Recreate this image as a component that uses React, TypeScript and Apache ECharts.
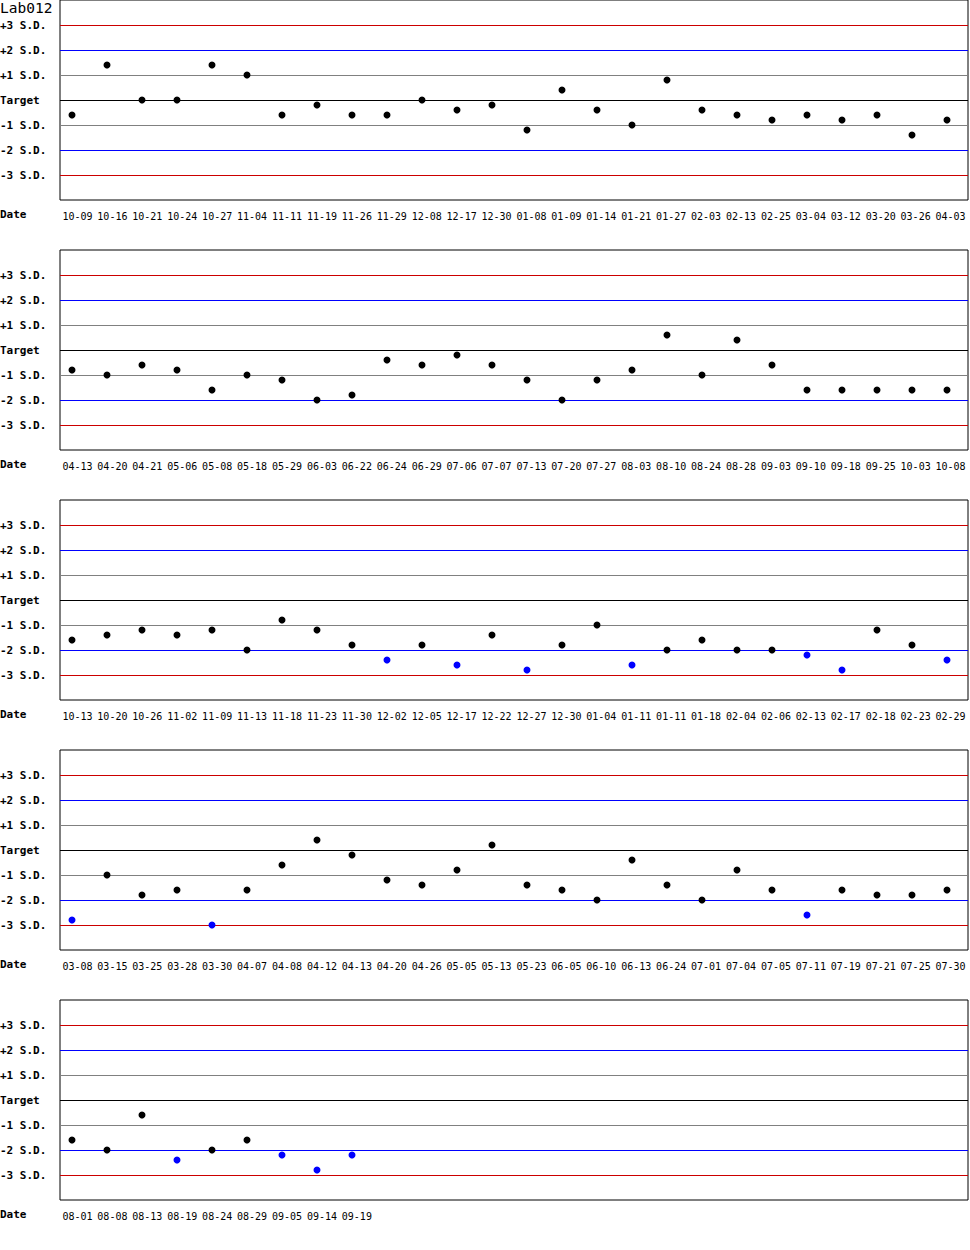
import { useEffect, useRef } from 'react'
import * as echarts from 'echarts'

// Levey-Jennings chart, Lab012 — values are in S.D. units from target
const title = 'Lab012'
const sdLabels = ['', '-3 S.D.', '-2 S.D.', '-1 S.D.', 'Target', '+1 S.D.', '+2 S.D.', '+3 S.D.', '']

const dates1 = ['10-09', '10-16', '10-21', '10-24', '10-27', '11-04', '11-11', '11-19', '11-26', '11-29', '12-08', '12-17', '12-30', '01-08', '01-09', '01-14', '01-21', '01-27', '02-03', '02-13', '02-25', '03-04', '03-12', '03-20', '03-26', '04-03']
const values1 = [-0.6, 1.4, 0, 0, 1.4, 1.0, -0.6, -0.2, -0.6, -0.6, 0, -0.4, -0.2, -1.2, 0.4, -0.4, -1.0, 0.8, -0.4, -0.6, -0.8, -0.6, -0.8, -0.6, -1.4, -0.8]

const dates2 = ['04-13', '04-20', '04-21', '05-06', '05-08', '05-18', '05-29', '06-03', '06-22', '06-24', '06-29', '07-06', '07-07', '07-13', '07-20', '07-27', '08-03', '08-10', '08-24', '08-28', '09-03', '09-10', '09-18', '09-25', '10-03', '10-08']
const values2 = [-0.8, -1.0, -0.6, -0.8, -1.6, -1.0, -1.2, -2.0, -1.8, -0.4, -0.6, -0.2, -0.6, -1.2, -2.0, -1.2, -0.8, 0.6, -1.0, 0.4, -0.6, -1.6, -1.6, -1.6, -1.6, -1.6]

const dates3 = ['10-13', '10-20', '10-26', '11-02', '11-09', '11-13', '11-18', '11-23', '11-30', '12-02', '12-05', '12-17', '12-22', '12-27', '12-30', '01-04', '01-11', '01-11', '01-18', '02-04', '02-06', '02-13', '02-17', '02-18', '02-23', '02-29']
const values3 = [-1.6, -1.4, -1.2, -1.4, -1.2, -2.0, -0.8, -1.2, -1.8, -2.4, -1.8, -2.6, -1.4, -2.8, -1.8, -1.0, -2.6, -2.0, -1.6, -2.0, -2.0, -2.2, -2.8, -1.2, -1.8, -2.4]

const dates4 = ['03-08', '03-15', '03-25', '03-28', '03-30', '04-07', '04-08', '04-12', '04-13', '04-20', '04-26', '05-05', '05-13', '05-23', '06-05', '06-10', '06-13', '06-24', '07-01', '07-04', '07-05', '07-11', '07-19', '07-21', '07-25', '07-30']
const values4 = [-2.8, -1.0, -1.8, -1.6, -3.0, -1.6, -0.6, 0.4, -0.2, -1.2, -1.4, -0.8, 0.2, -1.4, -1.6, -2.0, -0.4, -1.4, -2.0, -0.8, -1.6, -2.6, -1.6, -1.8, -1.8, -1.6]

const dates5 = ['08-01', '08-08', '08-13', '08-19', '08-24', '08-29', '09-05', '09-14', '09-19']
const values5 = [-1.6, -2.0, -0.6, -2.4, -2.0, -1.6, -2.2, -2.8, -2.2]

const panels = [
  { dates: dates1, values: values1 },
  { dates: dates2, values: values2 },
  { dates: dates3, values: values3 },
  { dates: dates4, values: values4 },
  { dates: dates5, values: values5 },
]

// control lines, in S.D.
const limitLevels = [-3, -2, -1, 0, 1, 2, 3]
const limitColors = ['#cc0000', '#0000ff', '#808080', '#000000', '#808080', '#0000ff', '#cc0000']

const SLOTS = 26
const MONO = '"DejaVu Sans Mono", monospace'

export default function App() {
  const ref = useRef<HTMLDivElement>(null)

  useEffect(() => {
    if (!ref.current) return
    const chart = echarts.init(ref.current, null, { renderer: 'svg' })

    const grids: any[] = []
    const xAxes: any[] = []
    const yAxes: any[] = []
    const series: any[] = []
    const graphics: any[] = [
      { type: 'text', left: 0, top: 0, style: { text: title, font: `14.5px ${MONO}`, fill: '#000' } },
    ]

    panels.forEach((p, k) => {
      const top = 250 * k
      grids.push({
        left: 60, top, width: 908, height: 200, show: true,
        borderColor: '#000', borderWidth: 1, outerBoundsMode: 'none', containLabel: false,
      })

      const cats = Array.from({ length: SLOTS }, (_, i) => p.dates[i] ?? '')
      xAxes.push({
        type: 'category', gridIndex: k, data: cats, boundaryGap: true,
        axisLine: { show: false }, axisTick: { show: false }, splitLine: { show: false },
        axisLabel: { interval: 0, margin: 11, fontFamily: MONO, fontSize: 10, color: '#000' },
      })
      xAxes.push({
        type: 'value', gridIndex: k, show: false, min: -12 / 35, max: -12 / 35 + 908 / 35,
        splitLine: { show: false },
      })

      yAxes.push({
        type: 'value', gridIndex: k, min: -4, max: 4, interval: 1,
        axisLine: { show: false }, axisTick: { show: false }, splitLine: { show: false },
        axisLabel: {
          formatter: (v: number) => sdLabels[v + 4] ?? '',
          align: 'left', margin: 60, fontFamily: MONO, fontSize: 11, fontWeight: 'bold', color: '#000',
        },
      })

      series.push({
        type: 'scatter', xAxisIndex: 2 * k + 1, yAxisIndex: k,
        symbol: 'circle', symbolSize: 7, z: 3,
        data: p.values.map((v, i) => ({
          value: [i, v],
          itemStyle: { color: Math.abs(v) > 2 ? '#0000ff' : '#000000', opacity: 1 },
        })),
        markLine: {
          silent: true, symbol: 'none', label: { show: false }, z: 1,
          data: limitLevels.map((lv, j) => ({ yAxis: lv, lineStyle: { color: limitColors[j], width: 1, type: 'solid' } })),
        },
      })

      graphics.push({
        type: 'text', left: 0, top: top + 209,
        style: { text: 'Date', font: `bold 11px ${MONO}`, fill: '#000' },
      })
    })

    chart.setOption({
      animation: false,
      backgroundColor: '#fff',
      grid: grids,
      xAxis: xAxes,
      yAxis: yAxes,
      series,
      graphic: graphics,
    })
    return () => chart.dispose()
  }, [])

  return <div ref={ref} style={{ position: 'absolute', left: 0, top: 0, width: 970, height: 1250 }} />
}
